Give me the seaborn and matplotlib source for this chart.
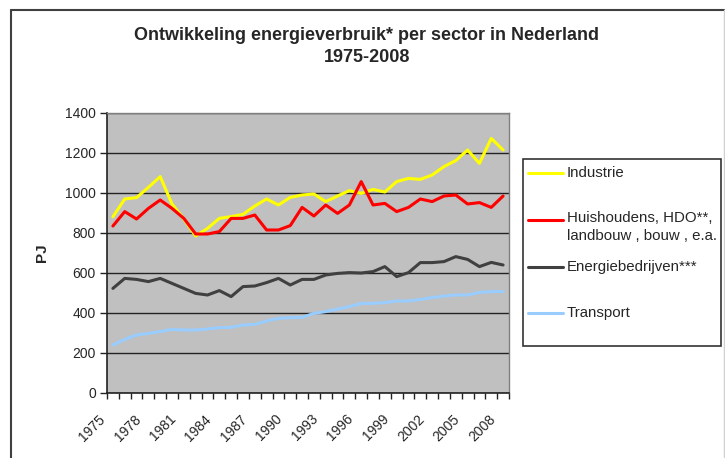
import numpy as np
import pandas as pd
import matplotlib.pyplot as plt
from matplotlib.lines import Line2D
from matplotlib.patches import Rectangle
from matplotlib.transforms import ScaledTranslation
import seaborn as sns

# ── Data (PJ) ──────────────────────────────────────────
years = list(range(1975, 2009))
industrie = [881, 970, 977, 1028, 1082, 945, 870, 785, 823, 873,
             882, 893, 935, 970, 940, 978, 990, 995, 957, 985,
             1012, 998, 1018, 1005, 1057, 1073, 1068, 1090, 1132, 1162,
             1215, 1148, 1273, 1215]
huishoudens = [835, 907, 870, 923, 965, 923, 873, 795, 795, 807,
               873, 873, 890, 815, 815, 837, 928, 885, 940, 898,
               940, 1057, 940, 948, 907, 928, 970, 957, 985, 990,
               945, 952, 928, 985]
energiebedrijven = [523, 573, 568, 557, 573, 548, 523, 498, 490, 512,
                    482, 532, 535, 552, 573, 540, 568, 568, 590, 598,
                    602, 600, 607, 632, 582, 602, 652, 652, 657, 682,
                    668, 632, 653, 640]
transport = [240, 268, 290, 298, 307, 318, 315, 315, 320, 327,
             328, 340, 343, 360, 373, 377, 378, 398, 407, 420,
             432, 448, 448, 452, 460, 460, 468, 477, 485, 490,
             490, 503, 507, 507]

sectors = ['Industrie', 'Huishoudens, HDO**,\nlandbouw , bouw , e.a.',
           'Energiebedrijven***', 'Transport']
colors = ['#FFFF00', '#FF0000', '#404040', '#99CCFF']
y_ticks = [0, 200, 400, 600, 800, 1000, 1200, 1400]

df = pd.DataFrame({
    'pos': np.tile(np.arange(len(years)), 4),
    'PJ': industrie + huishoudens + energiebedrijven + transport,
    'sector': np.repeat(sectors, len(years)),
})

# ── Style ──────────────────────────────────────────────
sns.set_style('ticks')
plt.rcParams['font.family'] = ['Liberation Sans', 'DejaVu Sans']

W, H = 725, 458
fx = lambda px: px / W
fy = lambda py: 1 - py / H

fig = plt.figure(figsize=(W / 100, H / 100), dpi=100)
ax = fig.add_axes([fx(107), fy(393), (509 - 107) / W, (393 - 113) / H])
ax.set_facecolor('#C0C0C0')

sns.lineplot(data=df, x='pos', y='PJ', hue='sector', hue_order=sectors,
             palette=colors, linewidth=2.2, legend=False, errorbar=None, ax=ax)

ax.set_yticks(y_ticks)
ax.set_yticklabels([str(v) for v in y_ticks], fontsize=10)
ax.set_xticks(np.arange(-0.5, len(years), 1))
ax.set_xticklabels([])
ax.set_xlim(-0.5, len(years) - 0.5)
ax.set_ylim(0, 1400)

# slanted year labels, a bit left of the category edge like Excel draws them
shift = ax.get_xaxis_transform() + ScaledTranslation(-9 / 100, -19 / 100,
                                                     fig.dpi_scale_trans)
for k in range(0, len(years), 3):
    ax.text(k - 0.5, 0, str(years[k]), transform=shift, rotation=45,
            ha='right', va='top', rotation_mode='anchor', fontsize=10)

ax.set_xlabel('')
ax.set_ylabel('')
ax.tick_params(axis='y', length=5, width=1, pad=3, color='#222222')
ax.tick_params(axis='x', length=4, width=1, color='#222222')

ax.yaxis.grid(True, color='#222222', linewidth=1.0)
ax.set_axisbelow(True)
for side in ['left', 'bottom']:
    ax.spines[side].set_color('#222222')
    ax.spines[side].set_linewidth(1.2)
for side in ['top', 'right']:
    ax.spines[side].set_visible(True)
    ax.spines[side].set_color('#808080')
    ax.spines[side].set_linewidth(1.0)

# ── Titles ─────────────────────────────────────────────
fig.text(fx(367), fy(35), 'Ontwikkeling energieverbruik* per sector in Nederland',
         ha='center', va='center', fontsize=13, fontweight='bold')
fig.text(fx(367), fy(58), '1975-2008',
         ha='center', va='center', fontsize=13, fontweight='bold')
fig.text(fx(42), fy(253), 'PJ', rotation=90, ha='center', va='center',
         fontsize=11, fontweight='bold')

# ── Legend (Excel style, uneven spacing) ───────────────
fig.add_artist(Rectangle((fx(523), fy(346)), (721 - 523) / W, (346 - 159) / H,
                         transform=fig.transFigure, facecolor='white',
                         edgecolor='#333333', linewidth=1.2))
legend_y = [173, 220, 267, 313]
for label, col, py in zip(sectors, colors, legend_y):
    fig.add_artist(Line2D([fx(528), fx(563)], [fy(py), fy(py)], color=col,
                          linewidth=2.2, transform=fig.transFigure))
    if '\n' in label:
        fig.text(fx(567), fy(py - 9), label, ha='left', va='top',
                 fontsize=10.8, linespacing=1.35)
    else:
        fig.text(fx(567), fy(py), label, ha='left', va='center', fontsize=10.8)

# ── Outer chart frame ──────────────────────────────────
fig.add_artist(Line2D([fx(11), fx(11)], [fy(10), -0.05], color='#404040',
                      linewidth=1.5, transform=fig.transFigure))
fig.add_artist(Line2D([fx(11), fx(724)], [fy(10), fy(10)], color='#404040',
                      linewidth=1.5, transform=fig.transFigure))
fig.add_artist(Line2D([fx(723.5), fx(723.5)], [fy(10), -0.05], color='#D0D0D0',
                      linewidth=1.0, transform=fig.transFigure))

plt.savefig('out.png', dpi=100)
